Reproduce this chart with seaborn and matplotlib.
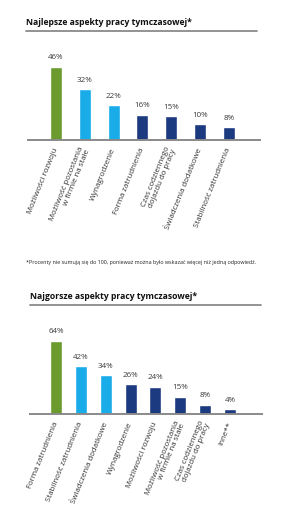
import matplotlib
matplotlib.use("Agg")
import matplotlib.pyplot as plt
import seaborn as sns
import pandas as pd
from matplotlib.lines import Line2D

sns.set_theme(style="white")
plt.rcParams['font.family'] = ['Open Sans', 'DejaVu Sans']

# Data
top_title = "Najlepsze aspekty pracy tymczasowej*"
top_categories = ["Możliwości rozwoju", "Możliwość pozostania\nw firmie na stałe", "Wynagrodzenie",
                  "Forma zatrudnienia", "Czas codziennego\ndojazdu do pracy",
                  "Świadczenia dodatkowe", "Stabilność zatrudnienia"]
top_values = [46, 32, 22, 16, 15, 10, 8]

bottom_title = "Najgorsze aspekty pracy tymczasowej*"
bottom_categories = ["Forma zatrudnienia", "Stabilność zatrudnienia", "Świadczenia dodatkowe",
                     "Wynagrodzenie", "Możliwości rozwoju", "Możliwość pozostania\nw firmie na stałe",
                     "Czas codziennego\ndojazdu do pracy", "Inne**"]
bottom_values = [64, 42, 34, 26, 24, 15, 8, 4]

footnote = "*Procenty nie sumują się do 100, ponieważ można było wskazać więcej niż jedną odpowiedź."

GREEN = "#6b9a2f"
LIGHT = "#1aabe9"
NAVY = "#1b3a80"

W, H = 286, 522
fig = plt.figure(figsize=(W / 100, H / 100), dpi=100)


def colors_for(n):
    return [GREEN, LIGHT, LIGHT] + [NAVY] * (n - 3)


def draw(cats, vals, rect, xlim, ylim_max, width):
    ax = fig.add_axes(rect)
    df = pd.DataFrame({"cat": cats, "val": vals})
    sns.barplot(data=df, x="cat", y="val", hue="cat", palette=colors_for(len(cats)),
                width=width, legend=False, ax=ax, saturation=1)
    ax.set_xlim(*xlim)
    ax.set_ylim(0, ylim_max)
    for sp in ["top", "right", "left"]:
        ax.spines[sp].set_visible(False)
    ax.spines["bottom"].set_color("#8a8a8a")
    ax.spines["bottom"].set_linewidth(1.4)
    ax.set_yticks([])
    ax.set_xlabel("")
    ax.set_ylabel("")
    ax.tick_params(axis="x", length=0, pad=6)
    ax.set_xticks(range(len(cats)))
    ax.set_xticklabels(cats, rotation=68, rotation_mode="anchor", ha="right", va="center",
                       fontsize=5.7, color="#333333", linespacing=1.0)
    for i, v in enumerate(vals):
        ax.annotate(f"{v}%", (i, v), xytext=(0, 4), textcoords="offset points",
                    ha="center", va="bottom", fontsize=5.8, color="#3a3a3a")
    return ax


def fx(px):
    return px / W


def fy(py):
    return 1 - py / H


# Top chart: baseline at y=140, top at y=55
draw(top_categories, top_values,
     [fx(28), fy(140), fx(260 - 28), (140 - 55) / H],
     (-0.97, 7.08), 46 * 85 / 73, 0.42)
fig.text(fx(26), fy(25), top_title, fontsize=6.2, fontweight="bold", color="#111111",
         ha="left", va="baseline")
fig.add_artist(Line2D([fx(26), fx(257)], [fy(31), fy(31)], color="#8a8a8a", lw=1.3))

fig.text(fx(26), fy(264), footnote, fontsize=3.9, color="#222222", ha="left", va="baseline")

# Bottom chart: baseline at y=414, top at y=330
draw(bottom_categories, bottom_values,
     [fx(30), fy(414), fx(262 - 30), (414 - 330) / H],
     (-1.05, 8.29), 64 * 84 / 73, 0.48)
fig.text(fx(30), fy(299), bottom_title, fontsize=6.2, fontweight="bold", color="#111111",
         ha="left", va="baseline")
fig.add_artist(Line2D([fx(30), fx(261)], [fy(305), fy(305)], color="#8a8a8a", lw=1.3))

fig.savefig("out.png", dpi=100, facecolor="white")
